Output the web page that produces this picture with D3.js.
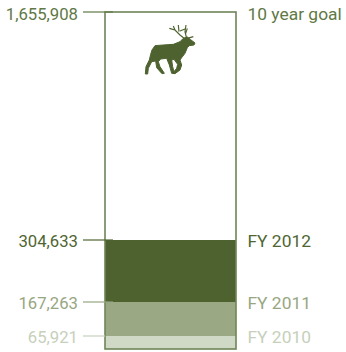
<!DOCTYPE html>
<html><head><meta charset="utf-8">
<style>html,body{margin:0;padding:0;background:#fff}svg{display:block}text{font-family:Roboto,sans-serif;font-size:16.7px}text.r{font-size:17.4px}</style>
<script src="https://cdn.jsdelivr.net/npm/d3@7"></script></head><body>
<script>
const labels = ["FY 2010","FY 2011","FY 2012"];
const values = [65921,167263,304633];
const barColors = ["#d0d9c6","#9aa884","#4d622f"];
const textColors = ["#c6d0bb","#97a682","#4f6532"];
const goalValue = 1655908;
const goalLabel = "10 year goal";
const goalColor = "#5f7845";

const svg = d3.select("body").append("svg").attr("width",346).attr("height",352);
// the source gauge is not linear: its spacing is read from the picture
const y = d3.scaleLinear().domain([0,65921,167263,304633,1655908]).range([349,336,302,240,12]);
const x0=105,x1=236;
const fmt=d3.format(",");

[0,1,2].reverse().forEach(i=>{
  svg.append("rect").attr("x",x0).attr("width",x1-x0)
    .attr("y",y(values[i])).attr("height",(i?y(values[i-1]):y(0))-y(values[i])).attr("fill",barColors[i]);
});
svg.append("rect").attr("x",x0).attr("y",y(goalValue)).attr("width",x1-x0).attr("height",y(0)-y(goalValue))
  .attr("fill","none").attr("stroke","#6e8557").attr("stroke-width",1.6);

const rows=values.map((v,i)=>({v,l:labels[i],c:textColors[i]})).concat([{v:goalValue,l:goalLabel,c:goalColor}]);
rows.forEach(r=>{
  const py=y(r.v);
  const dy=r.v===goalValue?8:7;
  svg.append("line").attr("x1",83).attr("x2",r.v===65921?105:113).attr("y1",py).attr("y2",py).attr("stroke",r.c).attr("stroke-width",1.2);
  svg.append("text").attr("x",78).attr("y",py+dy).attr("text-anchor","end").attr("fill",r.c).text(fmt(r.v));
  svg.append("text").attr("class","r").attr("x",247.5).attr("y",py+dy).attr("fill",r.c).text(r.l);
});

const elk=svg.append("g").attr("transform","translate(130,15) scale(0.3333)");
elk.append("path").attr("fill","#4d622f").attr("stroke","#4d622f").attr("stroke-width",3).attr("stroke-linejoin","round").attr("d","M66,105 L75,92 L100,90 L130,88 L150,80 L160,70 L172,66 L182,74 L195,84 L192,90 L178,92 L172,98 L165,115 L155,128 L150,135 L155,150 L150,165 L135,176 L128,175 L140,160 L143,148 L132,133 L125,135 L128,155 L133,175 L125,175 L118,150 L110,130 L92,132 L85,140 L90,155 L103,175 L96,176 L80,158 L77,138 L65,140 L55,160 L53,177 L46,177 L48,155 L58,135 L62,118 Z");
elk.append("path").attr("fill","none").attr("stroke","#4d622f").attr("stroke-width",3.5)
  .attr("d","M118,40 L135,45 L150,60 L165,72 M130,33 L135,45 M145,30 L147,50 M168,30 L165,50 L170,70 M150,48 L165,42 M172,40 L167,55 M190,65 L172,70");
</script></body></html>
